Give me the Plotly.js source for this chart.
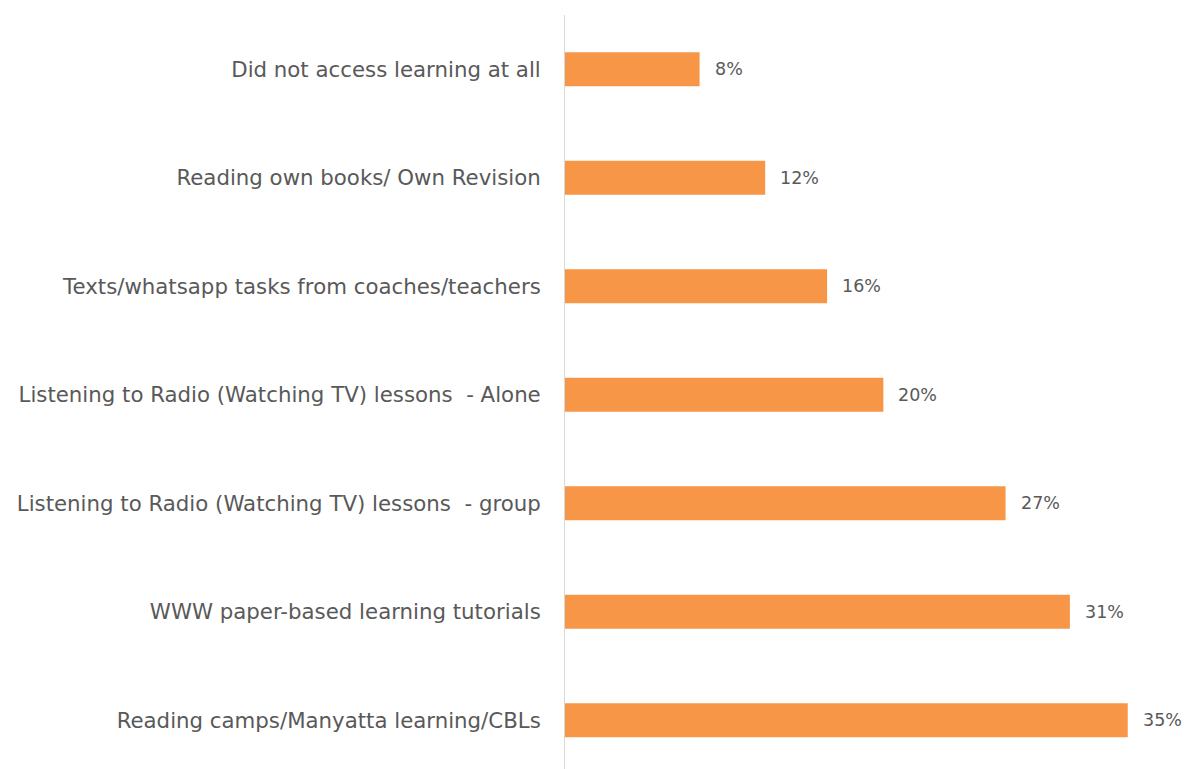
<!DOCTYPE html>
<html>
<head>
<meta charset="utf-8">
<script src="https://cdn.plot.ly/plotly-3.0.1.min.js"></script>
<style>html,body{margin:0;padding:0;background:#fff;}#chart{width:1189px;height:769px;}</style>
</head>
<body>
<div id="chart"></div>
<script>
const categories = [
  "Did not access learning at all",
  "Reading own books/ Own Revision",
  "Texts/whatsapp tasks from coaches/teachers",
  "Listening to Radio (Watching TV) lessons \u00a0- Alone",
  "Listening to Radio (Watching TV) lessons \u00a0- group",
  "WWW paper-based learning tutorials",
  "Reading camps/Manyatta learning/CBLs"
];
const values = [8.37, 12.45, 16.3, 19.8, 27.4, 31.4, 35.0];
const valueLabels = ["8%", "12%", "16%", "20%", "27%", "31%", "35%"];

const trace = {
  type: 'bar',
  orientation: 'h',
  y: categories,
  x: values,
  marker: {color: '#F79646'},
  width: 0.313,
  hoverinfo: 'skip'
};

const annotations = categories.map((c, i) => ({
  x: values[i], y: c, xref: 'x', yref: 'y',
  text: valueLabels[i], showarrow: false,
  xanchor: 'left', yanchor: 'middle', xshift: 13,
  font: {family: 'DejaVu Sans, sans-serif', size: 17.5, color: '#595959'}
}));

const layout = {
  width: 1189, height: 769,
  margin: {l: 565, r: 13, t: 15, b: 0, pad: 0},
  paper_bgcolor: '#ffffff', plot_bgcolor: '#ffffff',
  showlegend: false,
  xaxis: {range: [0, 38], visible: false, showgrid: false, zeroline: false, fixedrange: true},
  yaxis: {
    type: 'category',
    categoryorder: 'array', categoryarray: categories,
    range: [6.45, -0.5],
    showline: true, linecolor: '#d9d9d9', linewidth: 1,
    showgrid: false, zeroline: false, ticks: '',
    ticklabelstandoff: 19,
    tickfont: {family: 'DejaVu Sans, sans-serif', size: 21.3, color: '#595959'}
  },
  annotations: annotations
};

Plotly.newPlot('chart', [trace], layout, {displayModeBar: false, staticPlot: true});
</script>
</body>
</html>
